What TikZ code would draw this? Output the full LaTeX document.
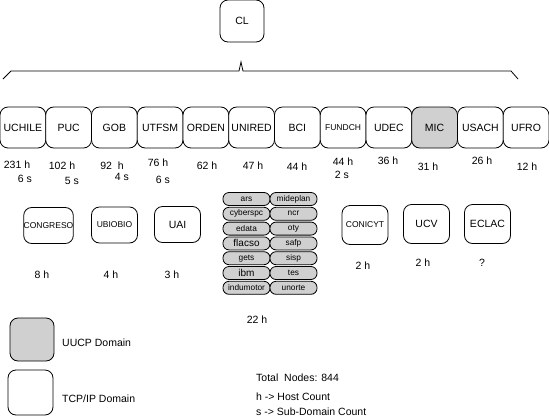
\documentclass[tikz,border=0pt]{standalone}
\usepackage{fontspec}
\setmainfont{Liberation Sans}
\usetikzlibrary{positioning}
\definecolor{UucpGray}{RGB}{208,208,208}

\begin{document}
\begin{tikzpicture}[x=1pt, y=-1pt,
  dombox/.style={
    rectangle, draw=black, fill=white, rounded corners=8pt, line width=0.8pt,
    minimum width=45.75pt, minimum height=41pt, inner sep=0pt,
    font=\fontsize{10.5}{12}\selectfont
  },
  uucpbox/.style={dombox, fill=UucpGray},
  smallbox/.style={dombox, minimum width=46pt, minimum height=36pt},
  subbox/.style={
    rectangle, draw=black, fill=UucpGray, rounded corners=6pt, line width=0.8pt,
    minimum width=47pt, minimum height=13pt, inner sep=0pt,
    font=\fontsize{8.3}{9}\selectfont
  },
  count/.style={inner sep=0pt, font=\fontsize{10.5}{12}\selectfont},
  legend/.style={inner sep=0pt, anchor=west, font=\fontsize{10.5}{12}\selectfont}
]
\useasboundingbox (0,0) rectangle (549,418);

% --- Top level domain
\node[dombox, minimum width=44pt, minimum height=42pt] (cl) at (242,21) {CL};

% --- Brace under CL
\draw[line width=0.8pt] (3,79) -- (11,71) -- (239,71) -- (241,62) -- (243,71)
  -- (511,71) -- (518,79);

% --- Second level domains (one row)
\node[dombox] (uchile) at (22.9,127.5)  {UCHILE};
\node[dombox] (puc)    at (68.6,127.5)  {PUC};
\node[dombox] (gob)    at (114.4,127.5) {GOB};
\node[dombox] (utfsm)  at (160.1,127.5) {UTFSM};
\node[dombox] (orden)  at (205.9,127.5) {ORDEN};
\node[dombox] (unired) at (251.6,127.5) {UNIRED};
\node[dombox] (bci)    at (297.4,127.5) {BCI};
\node[dombox, font=\fontsize{8.5}{9}\selectfont] (fundch) at (343.1,127.5) {FUNDCH};
\node[dombox] (udec)   at (388.9,127.5) {UDEC};
\node[uucpbox] (mic)   at (434.6,127.5) {MIC};
\node[dombox] (usach)  at (480.4,127.5) {USACH};
\node[dombox] (ufro)   at (526.1,127.5) {UFRO};

% --- Host and sub-domain counts
\node[count] (uchileh) at (17,165)  {231 h};
\node[count] (uchiles) at (25,179)  {6 s};
\node[count] (puch)    at (62,166)  {102 h};
\node[count] (pucs)    at (72,181)  {5 s};
\node[count] (gobh)    at (112,166) {92~ h};
\node[count] (gobs)    at (122,177) {4 s};
\node[count] (utfsmh)  at (158,163) {76 h};
\node[count] (utfsms)  at (163,180) {6 s};
\node[count] (ordenh)  at (207,166) {62 h};
\node[count] (unireh)  at (253,166) {47 h};
\node[count] (bcih)    at (297,167) {44 h};
\node[count] (fundchh) at (343,162) {44 h};
\node[count] (fundchs) at (342,175) {2 s};
\node[count] (udech)   at (388,161) {36 h};
\node[count] (mich)    at (428,167) {31 h};
\node[count] (usachh)  at (482,161) {26 h};
\node[count] (ufroh)   at (527,167) {12 h};

% --- Lower row domains
\node[smallbox, font=\fontsize{8.5}{9}\selectfont] (congreso) at (48.5,225.5) {CONGRESO};
\node[smallbox, font=\fontsize{8.5}{9}\selectfont] (ubiobio)  at (114.5,225)  {UBIOBIO};
\node[smallbox] (uai) at (177.5,224.5) {UAI};
\node[smallbox, minimum height=39pt, font=\fontsize{8.5}{9}\selectfont] (conicyt) at (365,225) {CONICYT};
\node[smallbox, minimum height=39pt] (ucv)   at (426.5,224) {UCV};
\node[smallbox, minimum height=39pt] (eclac) at (487.5,224) {ECLAC};

\node[count] (congresoh) at (42,275)  {8 h};
\node[count] (ubiobioh)  at (111,275) {4 h};
\node[count] (uaih)      at (172,275) {3 h};
\node[count] (conicyth)  at (363,266) {2 h};
\node[count] (ucvh)      at (423,263) {2 h};
\node[count] (eclach)    at (482,263) {?};

% --- UUCP sub-domains
\node[subbox] (ars)       at (246.5,199)   {ars};
\node[subbox] (cyberspc)  at (246.5,213.8) {cyberspc};
\node[subbox] (edata)     at (246.5,228.6) {edata};
\node[subbox, font=\fontsize{10}{11}\selectfont] (flacso) at (246.5,243.4) {flacso};
\node[subbox] (gets)      at (246.5,258.2) {gets};
\node[subbox, font=\fontsize{10}{11}\selectfont] (ibm) at (246.5,273) {ibm};
\node[subbox] (indumotor) at (246.5,287.8) {indumotor};
\node[subbox] (mideplan)  at (293.5,199)   {mideplan};
\node[subbox] (ncr)       at (293.5,213.8) {ncr};
\node[subbox] (oty)       at (293.5,228.6) {oty};
\node[subbox] (safp)      at (293.5,243.4) {safp};
\node[subbox] (sisp)      at (293.5,258.2) {sisp};
\node[subbox] (tes)       at (293.5,273)   {tes};
\node[subbox] (unorte)    at (293.5,287.8) {unorte};
\node[count] (uucph) at (257,320) {22 h};

% --- Legend
\node[uucpbox, minimum width=44pt, minimum height=43pt] (uucpkey) at (32,339.5) {};
\node[legend] (uucplabel) at (62,343) {UUCP Domain};
\node[dombox, minimum width=45pt, minimum height=45pt] (tcpkey) at (30.5,392.5) {};
\node[legend] (tcplabel) at (62,399) {TCP/IP Domain};

\node[legend] (total) at (256,378) {Total~ Nodes: 844};
\node[legend] (hkey)  at (256,397) {h -> Host Count};
\node[legend] (skey)  at (256,411.5) {s -> Sub-Domain Count};

\end{tikzpicture}
\end{document}
